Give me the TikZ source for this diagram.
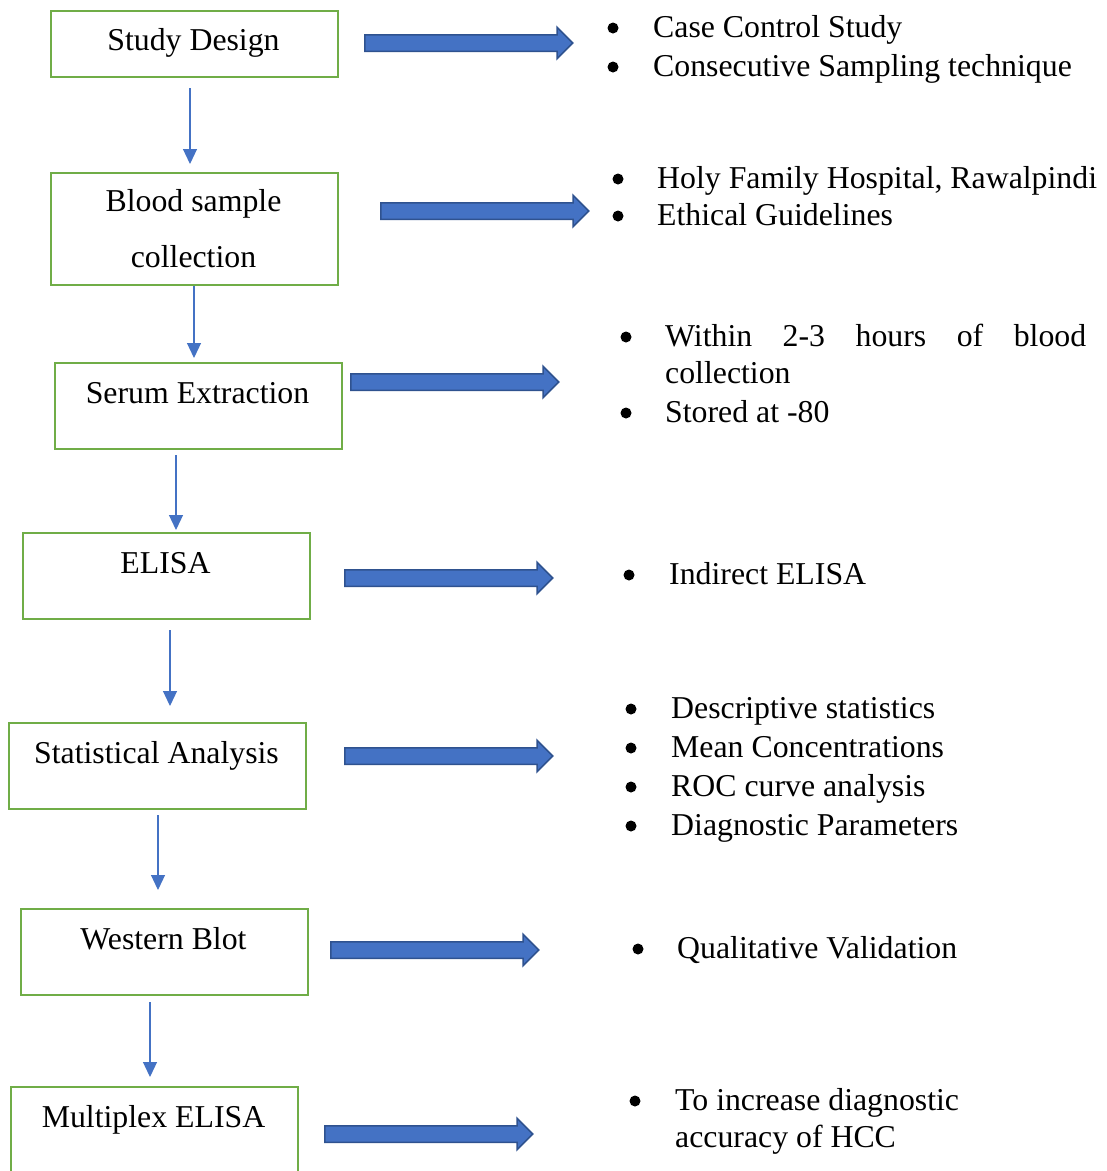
\documentclass[tikz,border=0pt]{standalone}
\usepackage{fontspec}
\setmainfont{Liberation Serif}
\usetikzlibrary{arrows.meta,shapes.arrows}
\definecolor{boxgreen}{HTML}{70AD47}
\definecolor{flowblue}{HTML}{4472C4}
\definecolor{edgeblue}{HTML}{2F528F}
\tikzset{
  stepbox/.style={draw=boxgreen, line width=2, minimum width=287, minimum height=86, inner sep=0, anchor=north west},
  flow/.style={draw=flowblue, line width=1.2, -{Triangle[width=14pt,length=15pt]}},
  bigarrow/.style={single arrow, draw=edgeblue, fill=flowblue, line width=1.5, inner sep=0, text height=15pt, text depth=0pt, single arrow head extend=7.5pt, minimum height=208, anchor=west},
  txt/.style={anchor=base west, inner sep=0, font=\fontsize{31.8}{39}\selectfont},
  dot/.style={circle, fill=black, inner sep=0, minimum size=11}
}
\begin{document}
\begin{tikzpicture}[x=1pt, y=-1pt]
\clip (0,0) rectangle (1107,1171);
% boxes
\node [stepbox, minimum height=66] (study) at (50,10) {};
\node [stepbox, minimum height=112] (blood) at (50,172) {};
\node [stepbox] (serum) at (54,362) {};
\node [stepbox] (elisa) at (22,532) {};
\node [stepbox, minimum width=297] (stats) at (8,722) {};
\node [stepbox] (western) at (20,908) {};
\node [stepbox, minimum height=110] (multiplex) at (10,1086) {};
% box texts
\node [txt, anchor=base] (studyt) at (193.5,50) {Study Design};
\node [txt, anchor=base] (bloodt) at (193.5,211) {Blood sample};
\node [txt, anchor=base] (bloodt2) at (193.5,267) {collection};
\node [txt, anchor=base] (serumt) at (197.5,403) {Serum Extraction};
\node [txt, anchor=base] (elisat) at (165.5,573) {ELISA};
\node [txt, anchor=base] (statst) at (156.5,763) {Statistical Analysis};
\node [txt, anchor=base] (westernt) at (163.5,949) {Western Blot};
\node [txt, anchor=base] (multiplext) at (153.5,1127) {Multiplex ELISA};
% down arrows
\draw [flow, shorten <=10, shorten >=8] ([xshift=-4.5]study.south) -- ([xshift=-4.5]blood.north);
\draw [flow, shorten <=0, shorten >=4] ([xshift=-0.5]blood.south) -- ([xshift=-4.5]serum.north);
\draw [flow, shorten <=5, shorten >=2] ([xshift=-22.5]serum.south) -- ([xshift=9.5]elisa.north);
\draw [flow, shorten <=10, shorten >=16] ([xshift=3.5]elisa.south) -- ([xshift=12.5]stats.north);
\draw [flow, shorten <=5, shorten >=18] ([xshift=0.5]stats.south) -- ([xshift=-6.5]western.north);
\draw [flow, shorten <=6, shorten >=9] ([xshift=-14.5]western.south) -- ([xshift=-4.5]multiplex.north);
% block arrows
\node [bigarrow] (a1) at (364,43) {};
\node [bigarrow] (a2) at (380,211) {};
\node [bigarrow] (a3) at (350,382) {};
\node [bigarrow] (a4) at (344,578) {};
\node [bigarrow] (a5) at (344,756) {};
\node [bigarrow] (a6) at (330,950) {};
\node [bigarrow] (a7) at (324,1134) {};
% bullet lists
\node [dot] (b11) at (613,28) {};
\node [txt] (t11) at (653,37) {Case Control Study};
\node [dot] (b12) at (613,67) {};
\node [txt] (t12) at (653,76) {Consecutive Sampling technique};
\node [dot] (b21) at (618,179) {};
\node [txt] (t21) at (657,188) {Holy Family Hospital, Rawalpindi};
\node [dot] (b22) at (618,216) {};
\node [txt] (t22) at (657,225) {Ethical Guidelines};
\node [dot] (b31) at (626,337) {};
\node [txt] (t31) at (665,346) {\makebox[421pt][s]{Within 2-3 hours of blood}};
\node [txt] (t31b) at (665,383) {collection};
\node [dot] (b32) at (626,413) {};
\node [txt] (t32) at (665,422) {Stored at -80};
\node [dot] (b41) at (629,575) {};
\node [txt] (t41) at (669,584) {Indirect ELISA};
\node [dot] (b51) at (631,709) {};
\node [txt] (t51) at (671,718) {Descriptive statistics};
\node [dot] (b52) at (631,748) {};
\node [txt] (t52) at (671,757) {Mean Concentrations};
\node [dot] (b53) at (631,787) {};
\node [txt] (t53) at (671,796) {ROC curve analysis};
\node [dot] (b54) at (631,826) {};
\node [txt] (t54) at (671,835) {Diagnostic Parameters};
\node [dot] (b61) at (638,949) {};
\node [txt] (t61) at (677,958) {Qualitative Validation};
\node [dot] (b71) at (635,1101) {};
\node [txt] (t71) at (675,1110) {To increase diagnostic};
\node [txt] (t71b) at (675,1147) {accuracy of HCC};
\end{tikzpicture}
\end{document}
